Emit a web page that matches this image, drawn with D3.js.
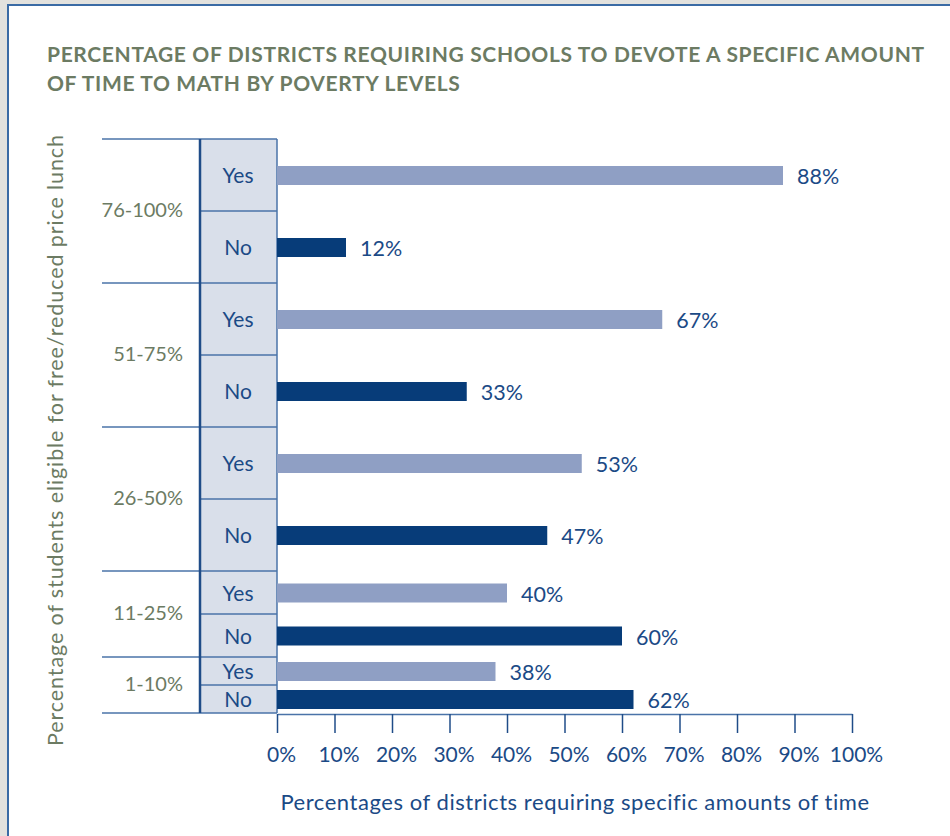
<!DOCTYPE html>
<html>
<head>
<meta charset="utf-8">
<script src="https://cdn.jsdelivr.net/npm/d3@7"></script>
<style>
  html, body { margin: 0; padding: 0; background: #e3e2de; }
  svg { display: block; }
  text { font-family: Lato, "Open Sans", sans-serif; }
</style>
</head>
<body>
<svg id="chart" width="950" height="836"></svg>
<script>
// Poverty bands (share of students eligible for free/reduced price lunch)
const groups = ["76-100%", "51-75%", "26-50%", "11-25%", "1-10%"];
const answers = ["Yes", "No"];
// Percent of districts answering Yes / No in each band
const yesValues = [88, 67, 53, 40, 38];
const noValues = [12, 33, 47, 60, 62];
const xTicks = [0, 10, 20, 30, 40, 50, 60, 70, 80, 90, 100];

const titleLines = [
  "PERCENTAGE OF DISTRICTS REQUIRING SCHOOLS TO DEVOTE A SPECIFIC AMOUNT",
  "OF TIME TO MATH BY POVERTY LEVELS"
];
const xTitle = "Percentages of districts requiring specific amounts of time";
const yTitle = "Percentage of students eligible for free/reduced price lunch";

// Layout
const groupHeights = [144, 144, 144, 86, 56];
const chartTop = 139;
const labelLeft = 102, divider = 200, plotLeft = 277, plotRight = 852;
const barH = 19;

const C = {
  green: "#6c7b63",
  blue: "#1b4a86",
  yes: "#8f9fc4",
  no: "#073c79",
  box: "#d9dfea",
  line: "#4a73a8",
  thick: "#1f4c88"
};

const svg = d3.select("#chart");

// Panel
svg.append("rect").attr("x", 8).attr("y", 5).attr("width", 960).attr("height", 860)
  .attr("fill", "#ffffff").attr("stroke", "#3b6ba5").attr("stroke-width", 2);

// Title
svg.append("g").selectAll("text").data(titleLines).join("text")
  .attr("x", 47).attr("y", (d, i) => 62 + i * 29)
  .attr("fill", C.green).attr("font-weight", 700).attr("font-size", 21)
  .attr("letter-spacing", 0.65)
  .text(d => d);

// Build rows
const rows = [];
let y0 = chartTop;
groups.forEach((g, gi) => {
  const h = groupHeights[gi] / 2;
  answers.forEach((a, ai) => {
    rows.push({ group: g, gi, answer: a, value: ai === 0 ? yesValues[gi] : noValues[gi], y: y0 + ai * h, h });
  });
  y0 += groupHeights[gi];
});
const chartBottom = y0;

const x = d3.scaleLinear().domain([0, 100]).range([plotLeft, plotRight]);

// Answer label box
svg.append("rect").attr("x", divider).attr("y", chartTop).attr("width", plotLeft - divider)
  .attr("height", chartBottom - chartTop).attr("fill", C.box);

// Row separators inside the answer box
svg.append("g").selectAll("line").data(rows.filter(r => r.answer === "No")).join("line")
  .attr("x1", divider).attr("x2", plotLeft).attr("y1", d => d.y).attr("y2", d => d.y)
  .attr("stroke", C.line).attr("stroke-width", 1.5);

// Group separators
const groupEdges = [chartTop];
{ let acc = chartTop; groupHeights.forEach(h => { acc += h; groupEdges.push(acc); }); }
svg.append("g").selectAll("line").data(groupEdges).join("line")
  .attr("x1", labelLeft).attr("x2", plotLeft).attr("y1", d => d).attr("y2", d => d)
  .attr("stroke", C.line).attr("stroke-width", 1.5);

// Box edges
svg.append("line").attr("x1", plotLeft).attr("x2", plotLeft).attr("y1", chartTop).attr("y2", chartBottom)
  .attr("stroke", C.line).attr("stroke-width", 1.5);
svg.append("line").attr("x1", divider).attr("x2", divider).attr("y1", chartTop).attr("y2", chartBottom)
  .attr("stroke", C.thick).attr("stroke-width", 2.5);

// Group labels
svg.append("g").selectAll("text").data(groups).join("text")
  .attr("x", 183).attr("y", (d, i) => (groupEdges[i] + groupEdges[i + 1]) / 2 + 6)
  .attr("text-anchor", "end").attr("fill", C.green).attr("font-size", 20)
  .text(d => d);

// Answer labels
svg.append("g").selectAll("text").data(rows).join("text")
  .attr("x", 238).attr("y", d => d.y + d.h / 2 + 8)
  .attr("text-anchor", "middle").attr("fill", C.blue).attr("font-size", 21)
  .text(d => d.answer);

// Bars
svg.append("g").selectAll("rect").data(rows).join("rect")
  .attr("x", x(0)).attr("y", d => d.y + d.h / 2 - barH / 2 + 0.5)
  .attr("width", d => x(d.value) - x(0)).attr("height", barH)
  .attr("fill", d => d.answer === "Yes" ? C.yes : C.no);

// Value labels
svg.append("g").selectAll("text").data(rows).join("text")
  .attr("x", d => x(d.value) + 14).attr("y", d => d.y + d.h / 2 + 9)
  .attr("fill", C.blue).attr("font-size", 21.5)
  .text(d => d.value + "%");

// X axis
const axis = svg.append("g").attr("transform", `translate(0,${chartBottom + 1})`)
  .call(d3.axisBottom(x).tickValues(xTicks).tickSize(19).tickSizeOuter(0)
    .tickPadding(14).tickFormat(d => d + "%"));
axis.select(".domain").attr("stroke", C.line).attr("stroke-width", 1.5);
axis.selectAll(".tick line").attr("stroke", C.thick).attr("stroke-width", 1.5);
axis.selectAll(".tick text").attr("fill", C.blue).attr("font-size", 21)
  .attr("font-family", "Lato, sans-serif").attr("dx", 4);

// Axis titles
svg.append("text").attr("x", 575).attr("y", 810).attr("text-anchor", "middle")
  .attr("fill", C.blue).attr("font-size", 22).attr("letter-spacing", 0.55).text(xTitle);

svg.append("text").attr("transform", "translate(63,440) rotate(-90)")
  .attr("text-anchor", "middle").attr("fill", C.green).attr("font-size", 21.5)
  .attr("letter-spacing", 0.9)
  .text(yTitle);
</script>
</body>
</html>
